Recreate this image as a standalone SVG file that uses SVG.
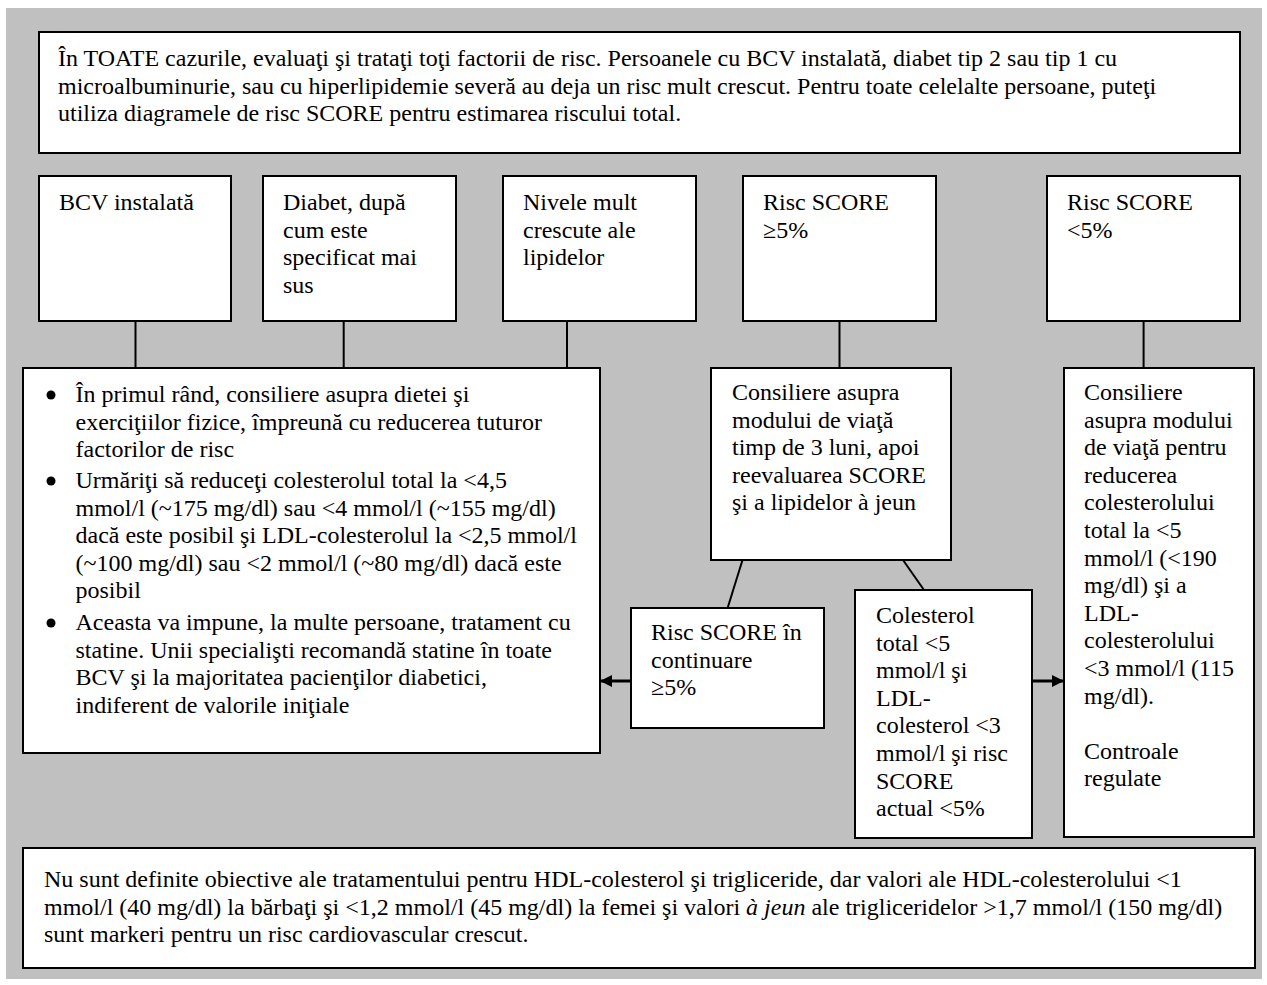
<svg xmlns="http://www.w3.org/2000/svg" width="1267" height="985" viewBox="0 0 1267 985">
<defs>
<style>
.box{fill:#fff;stroke:#000;stroke-width:2}
.t{font-family:"Liberation Serif","Times New Roman",serif;font-size:24px;fill:#000}
.conn{stroke:#000;stroke-width:2;fill:none}
.arr{stroke:#000;stroke-width:3;fill:none}
</style>
<marker id="ah" markerUnits="userSpaceOnUse" viewBox="0 0 12 12" refX="12" refY="6" markerWidth="12" markerHeight="12" orient="auto">
<path d="M0,0 L12,6 L0,12 z" fill="#000"/>
</marker>
</defs>
<rect x="0" y="0" width="1267" height="985" fill="#fff"/>
<rect x="6" y="8" width="1256" height="971" fill="#c0c0c0"/>

<g id="connectors">
<line class="conn" x1="135.5" y1="321" x2="135.5" y2="368"/>
<line class="conn" x1="343.7" y1="321" x2="343.7" y2="368"/>
<line class="conn" x1="567" y1="321" x2="567" y2="368"/>
<line class="conn" x1="839.5" y1="321" x2="839.5" y2="368"/>
<line class="conn" x1="1143.6" y1="321" x2="1143.6" y2="368"/>
<line class="conn" x1="742.5" y1="560" x2="727.6" y2="608"/>
<line class="conn" x1="903" y1="560" x2="924" y2="590"/>
<line class="arr" x1="631" y1="681" x2="600" y2="681" marker-end="url(#ah)"/>
<line class="arr" x1="1032" y1="681" x2="1064" y2="681" marker-end="url(#ah)"/>
</g>

<g id="top">
<rect class="box" x="39" y="32" width="1201" height="121"/>
<text class="t" x="58" y="66">În TOATE cazurile, evaluaţi şi trataţi toţi factorii de risc. Persoanele cu BCV instalată, diabet tip 2 sau tip 1 cu</text>
<text class="t" x="58" y="93.6">microalbuminurie, sau cu hiperlipidemie severă au deja un risc mult crescut. Pentru toate celelalte persoane, puteţi</text>
<text class="t" x="58" y="121.2">utiliza diagramele de risc SCORE pentru estimarea riscului total.</text>
</g>

<g id="bcv">
<rect class="box" x="39" y="176" width="192" height="145"/>
<text class="t" x="59" y="210">BCV instalată</text>
</g>

<g id="diabet">
<rect class="box" x="263" y="176" width="193" height="145"/>
<text class="t" x="283" y="210">Diabet, după</text>
<text class="t" x="283" y="237.6">cum este</text>
<text class="t" x="283" y="265.2">specificat mai</text>
<text class="t" x="283" y="292.8">sus</text>
</g>

<g id="lipide">
<rect class="box" x="503" y="176" width="193" height="145"/>
<text class="t" x="523" y="210">Nivele mult</text>
<text class="t" x="523" y="237.6">crescute ale</text>
<text class="t" x="523" y="265.2">lipidelor</text>
</g>

<g id="score-high">
<rect class="box" x="743" y="176" width="193" height="145"/>
<text class="t" x="763" y="210">Risc SCORE</text>
<text class="t" x="763" y="237.6">≥5%</text>
</g>

<g id="score-low">
<rect class="box" x="1047" y="176" width="193" height="145"/>
<text class="t" x="1067" y="210">Risc SCORE</text>
<text class="t" x="1067" y="237.6">&lt;5%</text>
</g>

<g id="main">
<rect class="box" x="23" y="368" width="577" height="385"/>
<circle cx="51" cy="395" r="4.5" fill="#000"/>
<circle cx="51" cy="481" r="4.5" fill="#000"/>
<circle cx="51" cy="623" r="4.5" fill="#000"/>
<text class="t" x="75.5" y="402">În primul rând, consiliere asupra dietei şi</text>
<text class="t" x="75.5" y="429.6">exerciţiilor fizice, împreună cu reducerea tuturor</text>
<text class="t" x="75.5" y="457.2">factorilor de risc</text>
<text class="t" x="75.5" y="488">Urmăriţi să reduceţi colesterolul total la &lt;4,5</text>
<text class="t" x="75.5" y="515.6">mmol/l (~175 mg/dl) sau &lt;4 mmol/l (~155 mg/dl)</text>
<text class="t" x="75.5" y="543.2">dacă este posibil şi LDL-colesterolul la &lt;2,5 mmol/l</text>
<text class="t" x="75.5" y="570.8">(~100 mg/dl) sau &lt;2 mmol/l (~80 mg/dl) dacă este</text>
<text class="t" x="75.5" y="598.4">posibil</text>
<text class="t" x="75.5" y="630">Aceasta va impune, la multe persoane, tratament cu</text>
<text class="t" x="75.5" y="657.6">statine. Unii specialişti recomandă statine în toate</text>
<text class="t" x="75.5" y="685.2">BCV şi la majoritatea pacienţilor diabetici,</text>
<text class="t" x="75.5" y="712.8">indiferent de valorile iniţiale</text>
</g>

<g id="lifestyle">
<rect class="box" x="711" y="368" width="240" height="192"/>
<text class="t" x="732" y="400">Consiliere asupra</text>
<text class="t" x="732" y="427.6">modului de viaţă</text>
<text class="t" x="732" y="455.2">timp de 3 luni, apoi</text>
<text class="t" x="732" y="482.8">reevaluarea SCORE</text>
<text class="t" x="732" y="510.4">şi a lipidelor à jeun</text>
</g>

<g id="continuare">
<rect class="box" x="631" y="608" width="193" height="120"/>
<text class="t" x="651" y="640">Risc SCORE în</text>
<text class="t" x="651" y="667.6">continuare</text>
<text class="t" x="651" y="695.2">≥5%</text>
</g>

<g id="colesterol">
<rect class="box" x="855" y="590" width="177" height="248"/>
<text class="t" x="876" y="623">Colesterol</text>
<text class="t" x="876" y="650.6">total &lt;5</text>
<text class="t" x="876" y="678.2">mmol/l şi</text>
<text class="t" x="876" y="705.8">LDL-</text>
<text class="t" x="876" y="733.4">colesterol &lt;3</text>
<text class="t" x="876" y="761">mmol/l şi risc</text>
<text class="t" x="876" y="788.6">SCORE</text>
<text class="t" x="876" y="816.2">actual &lt;5%</text>
</g>

<g id="right">
<rect class="box" x="1064" y="368" width="190" height="469"/>
<text class="t" x="1084" y="400">Consiliere</text>
<text class="t" x="1084" y="427.6">asupra modului</text>
<text class="t" x="1084" y="455.2">de viaţă pentru</text>
<text class="t" x="1084" y="482.8">reducerea</text>
<text class="t" x="1084" y="510.4">colesterolului</text>
<text class="t" x="1084" y="538">total la &lt;5</text>
<text class="t" x="1084" y="565.6">mmol/l (&lt;190</text>
<text class="t" x="1084" y="593.2">mg/dl) şi a</text>
<text class="t" x="1084" y="620.8">LDL-</text>
<text class="t" x="1084" y="648.4">colesterolului</text>
<text class="t" x="1084" y="676">&lt;3 mmol/l (115</text>
<text class="t" x="1084" y="703.6">mg/dl).</text>
<text class="t" x="1084" y="758.8">Controale</text>
<text class="t" x="1084" y="786.4">regulate</text>
</g>

<g id="bottom">
<rect class="box" x="23" y="848" width="1232" height="120"/>
<text class="t" x="44" y="887">Nu sunt definite obiective ale tratamentului pentru HDL-colesterol şi trigliceride, dar valori ale HDL-colesterolului &lt;1</text>
<text class="t" x="44" y="914.6">mmol/l (40 mg/dl) la bărbaţi şi &lt;1,2 mmol/l (45 mg/dl) la femei şi valori <tspan font-style="italic">à jeun</tspan> ale trigliceridelor &gt;1,7 mmol/l (150 mg/dl)</text>
<text class="t" x="44" y="942.2">sunt markeri pentru un risc cardiovascular crescut.</text>
</g>
</svg>
